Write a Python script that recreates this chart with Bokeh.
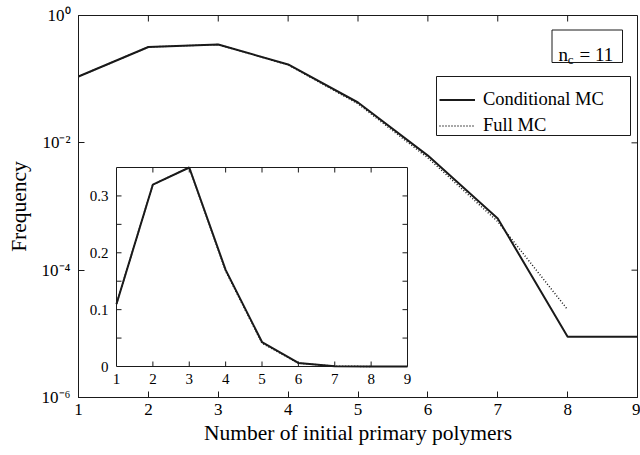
from bokeh.plotting import figure
from bokeh.models import (Range1d, FixedTicker, Label, BoxAnnotation, Legend,
                          LegendItem, LinearScale)
from bokeh.core.properties import value
from bokeh.embed import file_html
from bokeh.resources import INLINE

# ---- data -------------------------------------------------------------
n_primary = [1, 2, 3, 4, 5, 6, 7, 8, 9]
freq_conditional = [0.11, 0.32, 0.35, 0.17, 0.043, 0.0063, 6.5e-4, 9e-6, 9e-6]
n_primary_full = [1, 2, 3, 4, 5, 6, 7, 8]
freq_full = [0.11, 0.32, 0.35, 0.168, 0.041, 0.0058, 5.8e-4, 2.4e-5]

x_ticks = [1, 2, 3, 4, 5, 6, 7, 8, 9]
x_tick_labels = [str(t) for t in x_ticks]
y_ticks = [1.0, 1e-2, 1e-4, 1e-6]
y_tick_labels = ["10\u2070", "10\u207b\u00b2", "10\u207b\u2074", "10\u207b\u2076"]
inset_y_ticks = [0, 0.1, 0.2, 0.3]
inset_y_minor = [0.05, 0.15, 0.25]
inset_y_labels = ["0", "0.1", "0.2", "0.3"]
inset_x_lim = (1, 9)
inset_y_lim = (0, 0.35)

FONT = "Liberation Serif"
INK = "#1a1a1a"

# ---- panel geometry (pixels) ------------------------------------------
W, H = 640, 455
FL, FR, FT, FB = 78, 637, 15, 397          # main frame
IL, IR, IT, IB = 116, 407, 167, 366        # inset frame
X0, X1 = 1, 9
LY0, LY1 = -6, 0
TICK = 6


def xd(px):
    return X0 + (px - FL) / (FR - FL) * (X1 - X0)


def yd(py):
    return 10 ** (LY1 - (py - FT) / (FB - FT) * (LY1 - LY0))


p = figure(width=W, height=H, output_backend="svg", toolbar_location=None,
           x_range=Range1d(X0, X1), y_range=Range1d(10 ** LY0, 10 ** LY1),
           y_axis_type="log", min_border_left=FL, min_border_right=W - FR,
           min_border_top=FT, min_border_bottom=H - FB)
p.grid.visible = False
p.outline_line_color = INK
p.outline_line_width = 1
p.background_fill_color = "white"
p.border_fill_color = "white"

p.xaxis.ticker = FixedTicker(ticks=x_ticks, minor_ticks=[])
p.yaxis.ticker = FixedTicker(ticks=y_ticks, minor_ticks=[])

for ax in p.axis:
    ax.axis_line_color = INK
    ax.major_tick_line_color = INK
    ax.major_tick_in = TICK
    ax.major_tick_out = 0
    ax.minor_tick_in = 0
    ax.minor_tick_out = 0
    ax.axis_label_text_font = FONT
    ax.axis_label_text_font_style = "normal"
    ax.axis_label_text_color = "black"
    ax.major_label_text_font = FONT
    ax.major_label_text_color = "black"

bottom = p.below[0]
bottom.major_label_text_font_size = "17px"
bottom.major_label_standoff = 6
bottom.axis_label = "Number of initial primary polymers"
bottom.axis_label_text_font_size = "21.5px"
bottom.axis_label_standoff = 3

left = p.left[0]
left.major_label_overrides = dict(zip(y_ticks, y_tick_labels))
left.major_label_text_font_size = "17px"
left.major_label_standoff = 8
left.axis_label = "Frequency"
left.axis_label_text_font_size = "21.5px"
left.axis_label_standoff = 8

# tick marks on the top and right edges of the main frame
dx = TICK * (X1 - X0) / (FR - FL)
dlog = TICK * (LY1 - LY0) / (FB - FT)
p.segment(x0=x_ticks, x1=x_ticks, y0=[10 ** LY1] * len(x_ticks),
          y1=[10 ** (LY1 - dlog)] * len(x_ticks), line_color=INK, line_width=1)
p.segment(x0=[X1] * len(y_ticks), x1=[X1 - dx] * len(y_ticks), y0=y_ticks, y1=y_ticks,
          line_color=INK, line_width=1)

r_cond = p.line(n_primary, freq_conditional, line_color=INK, line_width=2)
r_full = p.line(n_primary_full, freq_full, line_color=INK, line_width=1.5,
                line_dash="1 2")

# legend: frame drawn as a box, entries laid over it
p.add_layout(BoxAnnotation(left=xd(436), right=xd(630), top=yd(76), bottom=yd(135),
                           fill_color="white", fill_alpha=1,
                           line_color=INK, line_alpha=1, line_width=1))
legend = Legend(items=[LegendItem(label="Conditional MC", renderers=[r_cond]),
                       LegendItem(label="Full MC", renderers=[r_full])],
                location=(439 - FL, FB - 137), margin=0, padding=7, spacing=3,
                glyph_width=36, glyph_height=23, label_height=23, label_standoff=8,
                label_text_font=FONT, label_text_font_size="18.5px",
                label_text_color="black",
                border_line_color=None, background_fill_alpha=0)
p.add_layout(legend, "center")

# n_c = 11 tag
p.add_layout(BoxAnnotation(left=xd(551.5), right=xd(622), top=yd(29.5), bottom=yd(62),
                           fill_color="white", fill_alpha=1,
                           line_color=INK, line_alpha=1, line_width=1))
p.add_layout(Label(x=xd(558), y=yd(54.3), text="n", text_font=FONT,
                   text_font_size="19px", text_baseline="alphabetic",
                   text_color="black"))
p.add_layout(Label(x=xd(567.3), y=yd(59), text="c", text_font=FONT,
                   text_font_size="13px", text_baseline="alphabetic",
                   text_color="black"))
p.add_layout(Label(x=xd(579), y=yd(54.3), text="= 11", text_font=FONT,
                   text_font_size="19px", text_baseline="alphabetic",
                   text_color="black"))

# ---- inset: same distribution on linear axes, in its own ranges -------
ix0, ix1 = inset_x_lim
iy0, iy1 = inset_y_lim
fx0, fx1 = (IL - FL) / (FR - FL), (IR - FL) / (FR - FL)
fy0, fy1 = (FB - IB) / (FB - FT), (FB - IT) / (FB - FT)
sx = (ix1 - ix0) / (fx1 - fx0)
sy = (iy1 - iy0) / (fy1 - fy0)
p.extra_x_ranges = {"ix": Range1d(ix0 - fx0 * sx, ix0 - fx0 * sx + sx)}
p.extra_y_ranges = {"iy": Range1d(iy0 - fy0 * sy, iy0 - fy0 * sy + sy)}
p.extra_x_scales = {"ix": LinearScale()}
p.extra_y_scales = {"iy": LinearScale()}
ins = dict(x_range_name="ix", y_range_name="iy")

px_x = (ix1 - ix0) / (IR - IL)      # inset data units per pixel
px_y = (iy1 - iy0) / (IB - IT)
itick = 5

p.quad(left=ix0, right=ix1, bottom=iy0, top=iy1, fill_color="white",
       line_color=INK, line_width=1, **ins)

# tick marks on all four inset edges
xt_in = [t for t in x_ticks if ix0 < t < ix1]
p.segment(x0=xt_in, x1=xt_in, y0=[iy0] * len(xt_in), y1=[iy0 + itick * px_y] * len(xt_in),
          line_color=INK, line_width=1, **ins)
p.segment(x0=xt_in, x1=xt_in, y0=[iy1] * len(xt_in), y1=[iy1 - itick * px_y] * len(xt_in),
          line_color=INK, line_width=1, **ins)
yt_in = [t for t in inset_y_ticks + inset_y_minor if iy0 < t < iy1]
p.segment(x0=[ix0] * len(yt_in), x1=[ix0 + itick * px_x] * len(yt_in), y0=yt_in, y1=yt_in,
          line_color=INK, line_width=1, **ins)
p.segment(x0=[ix1] * len(yt_in), x1=[ix1 - itick * px_x] * len(yt_in), y0=yt_in, y1=yt_in,
          line_color=INK, line_width=1, **ins)

# tick labels
p.text(x=x_ticks, y=[iy0] * len(x_ticks), text=x_tick_labels, y_offset=7,
       text_align="center", text_baseline="top", text_font=value(FONT),
       text_font_size="15px", text_color="black", **ins)
p.text(x=[ix0] * len(inset_y_ticks), y=inset_y_ticks, text=inset_y_labels, x_offset=-8,
       text_align="right", text_baseline="middle", text_font=value(FONT),
       text_font_size="15px", text_color="black", **ins)

p.line(n_primary_full, freq_full, line_color=INK, line_width=1.5, line_dash="1 2", **ins)
p.line(n_primary, freq_conditional, line_color=INK, line_width=2, **ins)

open("out.html", "w").write(file_html(p, INLINE))
